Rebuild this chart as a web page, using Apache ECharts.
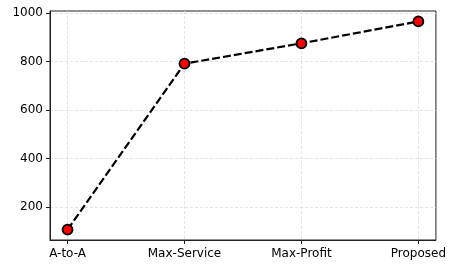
<!DOCTYPE html>
<html>
<head>
    <meta charset="utf-8">
    <title>chart</title>
    <script src="https://cdn.jsdelivr.net/npm/echarts@6/dist/echarts.min.js"></script>
    <style>
        html, body { margin: 0; padding: 0; background: #fff; }
        #main { width: 449px; height: 268px; }
    </style>
</head>
<body>
<div id="main"></div>
<script>
    // data
    var categories = ['A-to-A', 'Max-Service', 'Max-Profit', 'Proposed'];
    var values = [108, 791, 875, 965];
    var yTicks = [200, 400, 600, 800, 1000];
    var xTicks = [0, 1, 2, 3];

    var points = values.map(function (v, i) { return [i, v]; });
    var gridStyle = { color: '#dddddd', width: 0.8, type: [3, 2] };
    var font = { fontFamily: 'DejaVu Sans', fontSize: 12, color: '#000' };

    var chart = echarts.init(document.getElementById('main'));
    chart.setOption({
        animation: false,
        grid: {
            left: 50, right: 12, top: 11, bottom: 28,
            show: true, borderColor: '#222', borderWidth: 1
        },
        xAxis: {
            type: 'value',
            min: -0.15,
            max: 3.15,
            axisLine: { show: true, onZero: false, lineStyle: { color: '#222', width: 1 } },
            axisTick: { show: true, length: 4, customValues: xTicks, lineStyle: { color: '#222' } },
            axisLabel: Object.assign({
                customValues: xTicks,
                margin: 8,
                formatter: function (v) { return categories[Math.round(v)]; }
            }, font),
            splitLine: { show: true, customValues: xTicks, lineStyle: gridStyle }
        },
        yAxis: {
            type: 'value',
            min: 65,
            max: 1008,
            axisLine: { show: true, onZero: false, lineStyle: { color: '#222', width: 1 } },
            axisTick: { show: true, length: 4, customValues: yTicks, lineStyle: { color: '#222' } },
            axisLabel: Object.assign({
                customValues: yTicks,
                margin: 7,
                formatter: function (v) { return String(v); }
            }, font),
            splitLine: { show: true, customValues: yTicks, lineStyle: gridStyle }
        },
        series: [{
            type: 'line',
            data: points,
            symbol: 'circle',
            symbolSize: 10,
            lineStyle: { color: '#000', width: 2.2, type: [8, 3] },
            itemStyle: { color: '#ff0000', borderColor: '#000', borderWidth: 1.8 },
            z: 5
        }]
    });
</script>
</body>
</html>
